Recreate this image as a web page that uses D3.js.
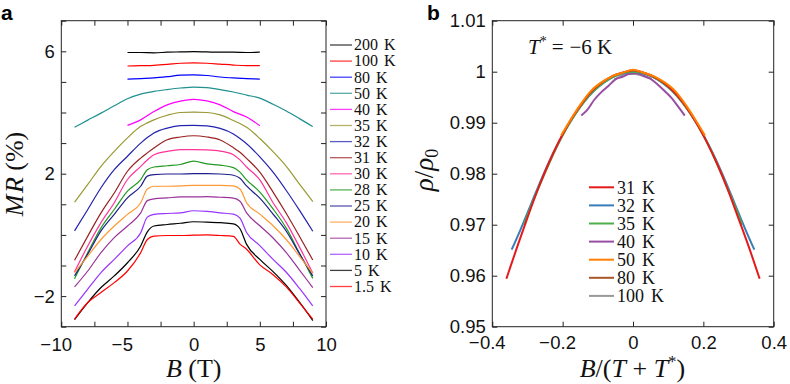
<!DOCTYPE html>
<html><head><meta charset="utf-8">
<script src="https://cdn.jsdelivr.net/npm/d3@7"></script>
<style>body{margin:0;background:#fff}</style>
</head><body><svg id="c" width="790" height="384"></svg>
<script>
// ---------- Panel a data ----------
const bFull = [-9,-8,-7,-6,-5,-4,-3.5,-3,-2,-1,0,1,2,3,3.5,4,5,6,7,8,9];
const bHalf = [-5,-4,-3,-2,-1,0,1,2,3,4,5];
const mr200 = [5.96,5.96,5.95,5.97,5.98,5.99,5.98,5.97,5.97,5.96,5.97];
const mr100 = [5.52,5.53,5.54,5.57,5.61,5.62,5.61,5.58,5.55,5.53,5.53];
const mr80  = [5.09,5.11,5.13,5.17,5.22,5.23,5.21,5.16,5.13,5.11,5.09];
const mr50  = [3.52,3.75,3.98,4.22,4.45,4.60,4.65,4.69,4.75,4.80,4.83,4.81,4.75,4.67,4.62,4.57,4.47,4.27,4.05,3.80,3.54];
const mr40  = [3.58,3.76,4.03,4.25,4.37,4.43,4.38,4.25,4.03,3.85,3.57];
const mr35  = [1.07,1.65,2.24,2.73,3.17,3.55,3.66,3.76,3.91,4.00,4.01,4.00,3.92,3.74,3.64,3.52,3.15,2.72,2.24,1.66,1.09];
const mr32  = [0.13,0.83,1.54,2.13,2.57,3.00,3.18,3.33,3.49,3.57,3.58,3.56,3.48,3.30,3.15,2.98,2.55,2.05,1.45,0.80,0.12];
const mr31  = [-0.83,-0.04,0.72,1.37,2.08,2.51,2.68,2.84,3.11,3.20,3.24,3.20,3.10,2.85,2.70,2.50,2.05,1.40,0.70,-0.05,-0.82];
const mr30  = [-1.21,-0.36,0.40,1.05,1.81,2.24,2.45,2.62,2.73,2.79,2.79,2.78,2.74,2.62,2.45,2.22,1.80,1.05,0.40,-0.40,-1.25];
const mr28  = [-1.43,-0.58,0.23,0.83,1.43,1.81,2.13,2.22,2.26,2.30,2.41,2.32,2.28,2.20,2.05,1.80,1.40,0.85,0.22,-0.60,-1.42];
const mr25  = [-1.34,-0.63,0.13,0.67,1.21,1.59,1.92,1.97,1.99,1.99,2.00,2.00,1.99,1.95,1.85,1.60,1.20,0.68,0.12,-0.62,-1.34];
const mr20  = [-1.23,-0.69,-0.15,0.29,0.67,1.05,1.50,1.59,1.59,1.60,1.62,1.62,1.62,1.60,1.50,1.05,0.68,0.30,-0.15,-0.70,-1.25];
const mr15  = [-1.70,-1.18,-0.58,-0.09,0.29,0.72,1.12,1.18,1.21,1.24,1.24,1.25,1.23,1.20,1.10,0.72,0.30,-0.10,-0.58,-1.15,-1.72];
const mr10  = [-2.32,-1.77,-1.23,-0.80,-0.36,0.07,0.58,0.67,0.70,0.72,0.79,0.77,0.72,0.68,0.55,0.08,-0.35,-0.80,-1.22,-1.75,-2.32];
const mr5   = [-2.77,-2.21,-1.72,-1.34,-0.91,-0.36,0.10,0.29,0.34,0.38,0.43,0.42,0.40,0.36,0.20,-0.31,-0.80,-1.20,-1.65,-2.20,-2.80];
const mr1p5 = [-2.75,-2.21,-1.88,-1.56,-1.18,-0.58,-0.15,-0.04,-0.02,-0.02,-0.01,0.00,-0.02,-0.05,-0.30,-0.47,-0.98,-1.30,-1.70,-2.22,-2.75];
const aLabels = ["200 K","100 K","80 K","50 K","40 K","35 K","32 K","31 K","30 K","28 K","25 K","20 K","15 K","10 K","5 K","1.5 K"];
const aColors = ["#000000","#ff0000","#0000ff","#1f8f8f","#ff00ff","#999933","#2323b0","#992222","#ff3399","#229922","#1f1f8c","#ff9933","#993399","#9933ff","#000000","#ff0000"];
const aXTicks = [-10,-7.5,-5,-2.5,0,2.5,5,7.5,10];
const aXLabelled = [-10,-5,0,5,10];
const aYTicks = [-3,-2,-1,0,1,2,3,4,5,6,7];
const aYLabelled = [-2,2,6];

// ---------- Panel b data ----------
const x31 = [-0.36,-0.33,-0.30,-0.27,-0.24,-0.21,-0.18,-0.15,-0.12,-0.09,-0.06,-0.03,0,0.03,0.06,0.09,0.12,0.15,0.18,0.21,0.24,0.27,0.30,0.33,0.36];
const r31 = [0.9594,0.9655,0.9714,0.9770,0.9820,0.9864,0.9902,0.9933,0.9960,0.9978,0.9991,0.9998,1.0003,0.9998,0.9990,0.9977,0.9958,0.9932,0.9900,0.9862,0.9818,0.9768,0.9712,0.9655,0.9594];
const x32 = [-0.345,-0.32,-0.29,-0.26,-0.23,-0.20,-0.17,-0.14,-0.11,-0.08,-0.05,-0.02,0,0.02,0.05,0.08,0.11,0.14,0.17,0.20,0.23,0.26,0.29,0.32,0.345];
const r32 = [0.9651,0.9690,0.9740,0.9790,0.9836,0.9876,0.9911,0.9940,0.9963,0.9980,0.9992,0.9998,1.0000,0.9998,0.9992,0.9980,0.9963,0.9940,0.9911,0.9876,0.9836,0.9790,0.9740,0.9690,0.9651];
const x35 = [-0.31,-0.28,-0.25,-0.22,-0.19,-0.16,-0.13,-0.10,-0.07,-0.04,0,0.04,0.07,0.10,0.13,0.16,0.19,0.22,0.25,0.28,0.31];
const r35 = [0.9700,0.9753,0.9802,0.9848,0.9888,0.9921,0.9949,0.9970,0.9985,0.9995,1.0000,0.9995,0.9985,0.9970,0.9949,0.9921,0.9888,0.9848,0.9802,0.9753,0.9700];
const x40 = [-0.147,-0.13,-0.11,-0.09,-0.07,-0.05,-0.03,-0.01,0.01,0.03,0.05,0.07,0.09,0.11,0.13,0.147];
const r40 = [0.9914,0.9925,0.9945,0.9960,0.9972,0.9985,0.9990,0.9996,0.9997,0.9992,0.9986,0.9975,0.9962,0.9948,0.9930,0.9914];
const x50 = [-0.2045,-0.18,-0.15,-0.12,-0.09,-0.06,-0.03,0,0.03,0.06,0.09,0.12,0.15,0.18,0.2045];
const r50 = [0.9875,0.9903,0.9935,0.9962,0.9979,0.9991,0.9998,1.0004,0.9998,0.9991,0.9979,0.9962,0.9935,0.9903,0.9875];
const x80 = [-0.068,-0.045,-0.023,0,0.023,0.045,0.068];
const r80 = [0.9987,0.9994,0.9999,1.0002,0.9999,0.9994,0.9987];
const x100 = [-0.053,-0.035,-0.018,0,0.018,0.035,0.053];
const r100 = [0.9985,0.9991,0.9995,0.9996,0.9994,0.9990,0.9986];
const bLabels = ["31 K","32 K","35 K","40 K","50 K","80 K","100 K"];
const bColors = ["#e41a1c","#377eb8","#4daf4a","#984ea3","#ff7f00","#a65628","#999999"];
const bXTicks = [-0.4,-0.2,0,0.2,0.4];
const bYTicks = [0.95,0.96,0.97,0.98,0.99,1.00,1.01];
const bYTickLabels = ["0.95","0.96","0.97","0.98","0.99","1","1.01"];

// ---------- Drawing ----------
const svg = d3.select("#c");
const SANS = "'Liberation Sans', Arial, Helvetica, sans-serif";
const SERIF = "'Liberation Serif', 'Times New Roman', serif";
const TICKFS = 18.5;
const AX = "#222";

function frame(g, x, y, xTicks, xFmt, yTicks, yFmt, xPad) {
  const [x0,x1] = x.range(), [y0,y1] = y.range();
  const style = sel => { sel.select(".domain").remove();
    sel.selectAll("line").attr("stroke", AX);
    sel.attr("font-family", SANS).attr("font-size", TICKFS);
    sel.selectAll("text").attr("fill", "#111"); };
  const bot = g.append("g").attr("transform",`translate(0,${y0})`)
    .call(d3.axisBottom(x).tickValues(xTicks).tickSize(-5).tickSizeOuter(0).tickPadding(xPad).tickFormat(xFmt)).call(style);
  // hanging minus signs (digits centred on the tick)
  bot.selectAll(".tick").each(function(d){
    const t = d3.select(this).select("text");
    if (d < 0 && t.text() !== "") {
      const w = t.node().getComputedTextLength();
      d3.select(this).append("text").attr("fill","#111").attr("y", t.attr("y")).attr("dy", t.attr("dy"))
        .attr("x", -w/2 - 0.5).attr("text-anchor","end").text("\u2212");
    }
  });
  g.append("g").attr("transform",`translate(0,${y1})`)
    .call(d3.axisTop(x).tickValues(xTicks).tickSize(-5).tickSizeOuter(0).tickFormat("")).call(style);
  g.append("g").attr("transform",`translate(${x0},0)`)
    .call(d3.axisLeft(y).tickValues(yTicks).tickSize(-5).tickSizeOuter(0).tickPadding(6.5).tickFormat(yFmt)).call(style);
  g.append("g").attr("transform",`translate(${x1},0)`)
    .call(d3.axisRight(y).tickValues(yTicks).tickSize(-5).tickSizeOuter(0).tickFormat("")).call(style);
  g.append("rect").attr("x",x0).attr("y",y1).attr("width",x1-x0).attr("height",y0-y1)
    .attr("fill","none").attr("stroke",AX).attr("stroke-width",1);
}

// Panel a
const xA = d3.scaleLinear().domain([-10,10]).range([61.3,326]);
const yA = d3.scaleLinear().domain([-3,7]).range([326.7,20.7]);
const gA = svg.append("g");
const aSeries = [
  [bHalf,mr200],[bHalf,mr100],[bHalf,mr80],[bFull,mr50],[bHalf,mr40],[bFull,mr35],[bFull,mr32],[bFull,mr31],
  [bFull,mr30],[bFull,mr28],[bFull,mr25],[bFull,mr20],[bFull,mr15],[bFull,mr10],[bFull,mr5],[bFull,mr1p5]
];
const lineA = d3.line().x(d=>xA(d[0])).y(d=>yA(d[1])).curve(d3.curveMonotoneX);
aSeries.forEach((s,i)=>{
  gA.append("path").datum(s[0].map((b,j)=>[b,s[1][j]])).attr("d",lineA)
    .attr("fill","none").attr("stroke",aColors[i]).attr("stroke-width",1.2);
});
frame(gA, xA, yA, aXTicks, d=> aXLabelled.includes(d) ? String(Math.abs(d)) : "",
  aYTicks, d=> aYLabelled.includes(d) ? (d<0? "\u2212"+Math.abs(d) : String(d)) : "", 11);
// legend a
const legA = gA.append("g");
aLabels.forEach((lab,i)=>{
  const yy = 45 + i*16.1;
  legA.append("line").attr("x1",330).attr("x2",352).attr("y1",yy).attr("y2",yy)
    .attr("stroke",aColors[i]).attr("stroke-width",1.3).attr("stroke-opacity",0.75);
  legA.append("text").attr("x",354).attr("y",yy+5.3).attr("font-family",SERIF).attr("font-size",16)
    .attr("word-spacing",2).attr("fill","#111").text(lab);
});
// axis titles a
const tA = gA.append("text").attr("x",193.7).attr("y",377).attr("text-anchor","middle")
  .attr("font-family",SERIF).attr("font-size",26).attr("fill","#111");
tA.append("tspan").attr("font-style","italic").text("B");
tA.append("tspan").text(" (T)");
const tAy = gA.append("text").attr("transform","translate(23,174) rotate(-90)").attr("text-anchor","middle")
  .attr("font-family",SERIF).attr("font-size",26).attr("fill","#111");
tAy.append("tspan").attr("font-style","italic").text("M");
tAy.append("tspan").attr("font-style","italic").attr("dx",1.5).text("R");
tAy.append("tspan").text(" (%)");
svg.append("text").attr("x",1).attr("y",20).attr("font-family",SANS).attr("font-weight","bold")
  .attr("font-size",21).attr("fill","#000").text("a");

// Panel b
const xB = d3.scaleLinear().domain([-0.4,0.4]).range([492.3,773.7]);
const yB = d3.scaleLinear().domain([0.95,1.01]).range([326.7,20.7]);
const gB = svg.append("g");
const bSeries = [[x31,r31],[x32,r32],[x35,r35],[x40,r40],[x50,r50],[x80,r80],[x100,r100]];
const drawOrder = [6,5,3,1,2,0,4];
const lineB = d3.line().x(d=>xB(d[0])).y(d=>yB(d[1])).curve(d3.curveMonotoneX);
drawOrder.forEach(i=>{
  const s = bSeries[i];
  gB.append("path").datum(s[0].map((v,j)=>[v,s[1][j]])).attr("d",lineB)
    .attr("fill","none").attr("stroke",bColors[i]).attr("stroke-width",2);
});
frame(gB, xB, yB, bXTicks, d=> d===0 ? "0" : String(Math.abs(d)),
  bYTicks, d=> bYTickLabels[bYTicks.indexOf(d)], 9);
const legB = gB.append("g");
bLabels.forEach((lab,i)=>{
  const yy = 187.3 + i*18.1;
  legB.append("line").attr("x1",589).attr("x2",614).attr("y1",yy).attr("y2",yy)
    .attr("stroke",bColors[i]).attr("stroke-width",2);
  legB.append("text").attr("x",617).attr("y",yy+6.3).attr("font-family",SERIF).attr("font-size",18)
    .attr("word-spacing",2.5).attr("fill","#111").text(lab);
});
const tB = gB.append("text").attr("x",632.5).attr("y",377).attr("text-anchor","middle")
  .attr("font-family",SERIF).attr("font-size",26).attr("fill","#111");
tB.append("tspan").attr("font-style","italic").text("B");
tB.append("tspan").text("/(");
tB.append("tspan").attr("font-style","italic").text("T");
tB.append("tspan").text(" + ");
tB.append("tspan").attr("font-style","italic").text("T");
tB.append("tspan").attr("font-size",17).attr("dy",-10).text("*");
tB.append("tspan").attr("dy",10).text(")");
const tBy = gB.append("text").attr("transform","translate(433,170) rotate(-90)").attr("text-anchor","middle")
  .attr("font-family",SERIF).attr("font-size",27).attr("fill","#111");
tBy.append("tspan").attr("font-style","italic").text("\u03c1");
tBy.append("tspan").text("/");
tBy.append("tspan").attr("font-style","italic").text("\u03c1");
tBy.append("tspan").attr("font-size",18).attr("dy",5).text("0");
const ann = gB.append("text").attr("x",528).attr("y",54).attr("font-family",SERIF).attr("font-size",21).attr("fill","#111");
ann.append("tspan").attr("font-style","italic").text("T");
ann.append("tspan").attr("font-size",14).attr("dy",-8).text("*");
ann.append("tspan").attr("dy",8).attr("dx",5).text("=");
ann.append("tspan").attr("dx",6).text("\u22126 K");
svg.append("text").attr("x",427).attr("y",20).attr("font-family",SANS).attr("font-weight","bold")
  .attr("font-size",21).attr("fill","#000").text("b");
</script></body></html>
